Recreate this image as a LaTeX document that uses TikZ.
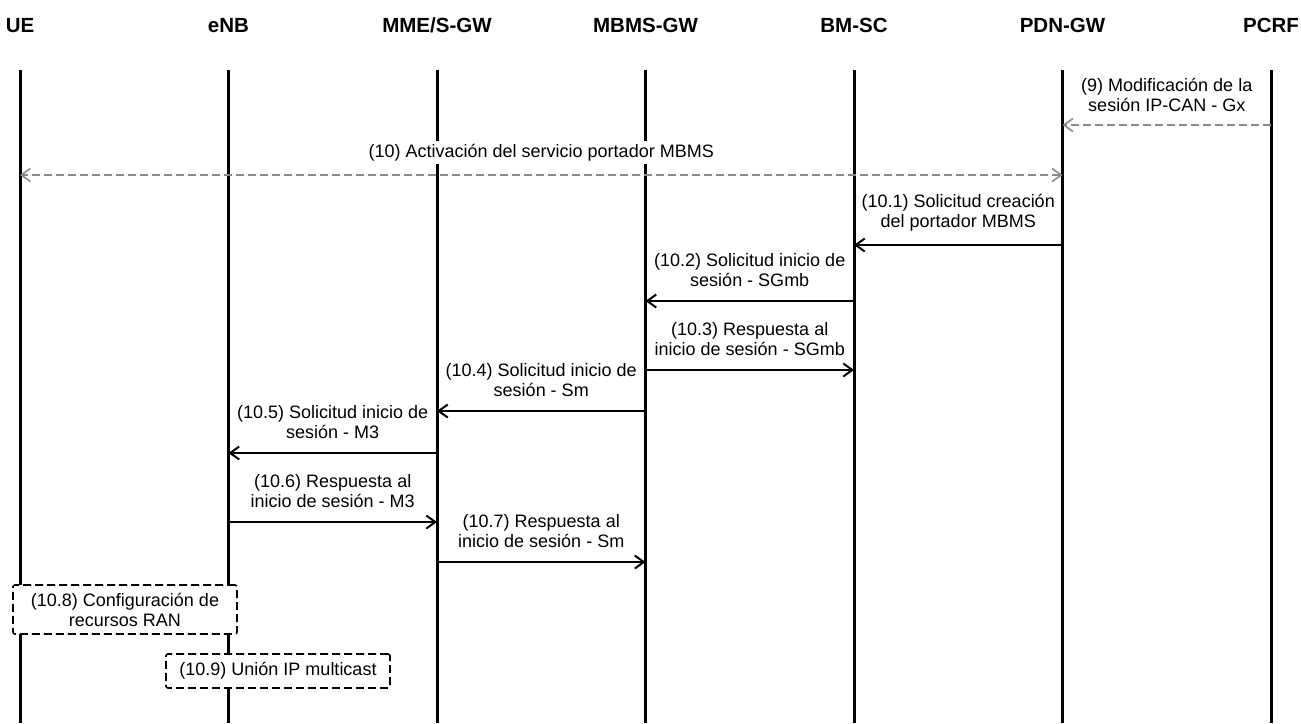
\documentclass[tikz,border=0pt]{standalone}
\usepackage{fontspec}
\setmainfont{Liberation Sans}
\usepackage{xcolor}
\usetikzlibrary{arrows.meta,positioning}
\definecolor{dashgray}{RGB}{138,138,138}

\begin{document}
\begin{tikzpicture}[
		x=1pt, y=-1pt,
		>={Straight Barb[length=9pt,width=13pt]},
		entity/.style={anchor=base, font=\bfseries\fontsize{20.5}{22}\selectfont},
		lifeline/.style={line width=3pt},
		msg/.style={line width=2pt, ->},
		optmsg/.style={draw=dashgray, line width=1.6pt, dash pattern=on 8pt off 4pt},
		msglabel/.style={midway, above=10pt, align=center, fill=white, inner sep=3pt,
			font=\fontsize{18}{20}\selectfont},
		procbox/.style={draw, line width=1.6pt, dash pattern=on 8pt off 4pt, rounded corners=2pt,
			fill=white, align=center, minimum width=224pt, inner sep=0pt,
			font=\fontsize{18}{20}\selectfont}
		]
		
		\useasboundingbox (0,0) rectangle (1301,723);
		
		\foreach \n/\x/\t in {ue/20/UE, enb/228.5/eNB, mme/437/{MME/S-GW}, mbmsgw/645.5/MBMS-GW,
			bmsc/854/BM-SC, pdngw/1062.5/PDN-GW, pcrf/1271/PCRF} {
			\node[entity] (\n-h) at (\x,32) {\t};
			\coordinate (\n) at (\x,70);
			\draw[lifeline] (\n) -- (\x,723);
		}
		
		\draw[optmsg, ->] (pcrf |- 0,125) -- (pdngw |- 0,125)
		node[msglabel] (m9) {(9) Modificación de la\\sesión IP-CAN - Gx};
		
		\draw[optmsg, <->] (pdngw |- 0,175) -- (ue |- 0,175)
		node[msglabel] (m10) {(10) Activación del servicio portador MBMS};
		
		\draw[msg] (pdngw |- 0,245) -- (bmsc |- 0,245)
		node[msglabel] (m101) {(10.1) Solicitud creación\\del portador MBMS};
		
		\draw[msg] (bmsc |- 0,301) -- (mbmsgw |- 0,301)
		node[msglabel] (m102) {(10.2) Solicitud inicio de\\sesión - SGmb};
		
		\draw[msg] (mbmsgw |- 0,370) -- (bmsc |- 0,370)
		node[msglabel] (m103) {(10.3) Respuesta al\\inicio de sesión - SGmb};
		
		\draw[msg] (mbmsgw |- 0,411) -- (mme |- 0,411)
		node[msglabel] (m104) {(10.4) Solicitud inicio de\\sesión - Sm};
		
		\draw[msg] (mme |- 0,453) -- (enb |- 0,453)
		node[msglabel] (m105) {(10.5) Solicitud inicio de\\sesión - M3};
		
		\draw[msg] (enb |- 0,522) -- (mme |- 0,522)
		node[msglabel] (m106) {(10.6) Respuesta al\\inicio de sesión - M3};
		
		\draw[msg] (mme |- 0,562) -- (mbmsgw |- 0,562)
		node[msglabel] (m107) {(10.7) Respuesta al\\inicio de sesión - Sm};
		
		\node[procbox, minimum height=49pt] (ranconf) at (125,609.5)
		{(10.8) Configuración de\\recursos RAN};
		
		\node[procbox, minimum height=34pt] (ipjoin) at (278,671)
		{(10.9) Unión IP multicast};
		
	\end{tikzpicture}
\end{document}
